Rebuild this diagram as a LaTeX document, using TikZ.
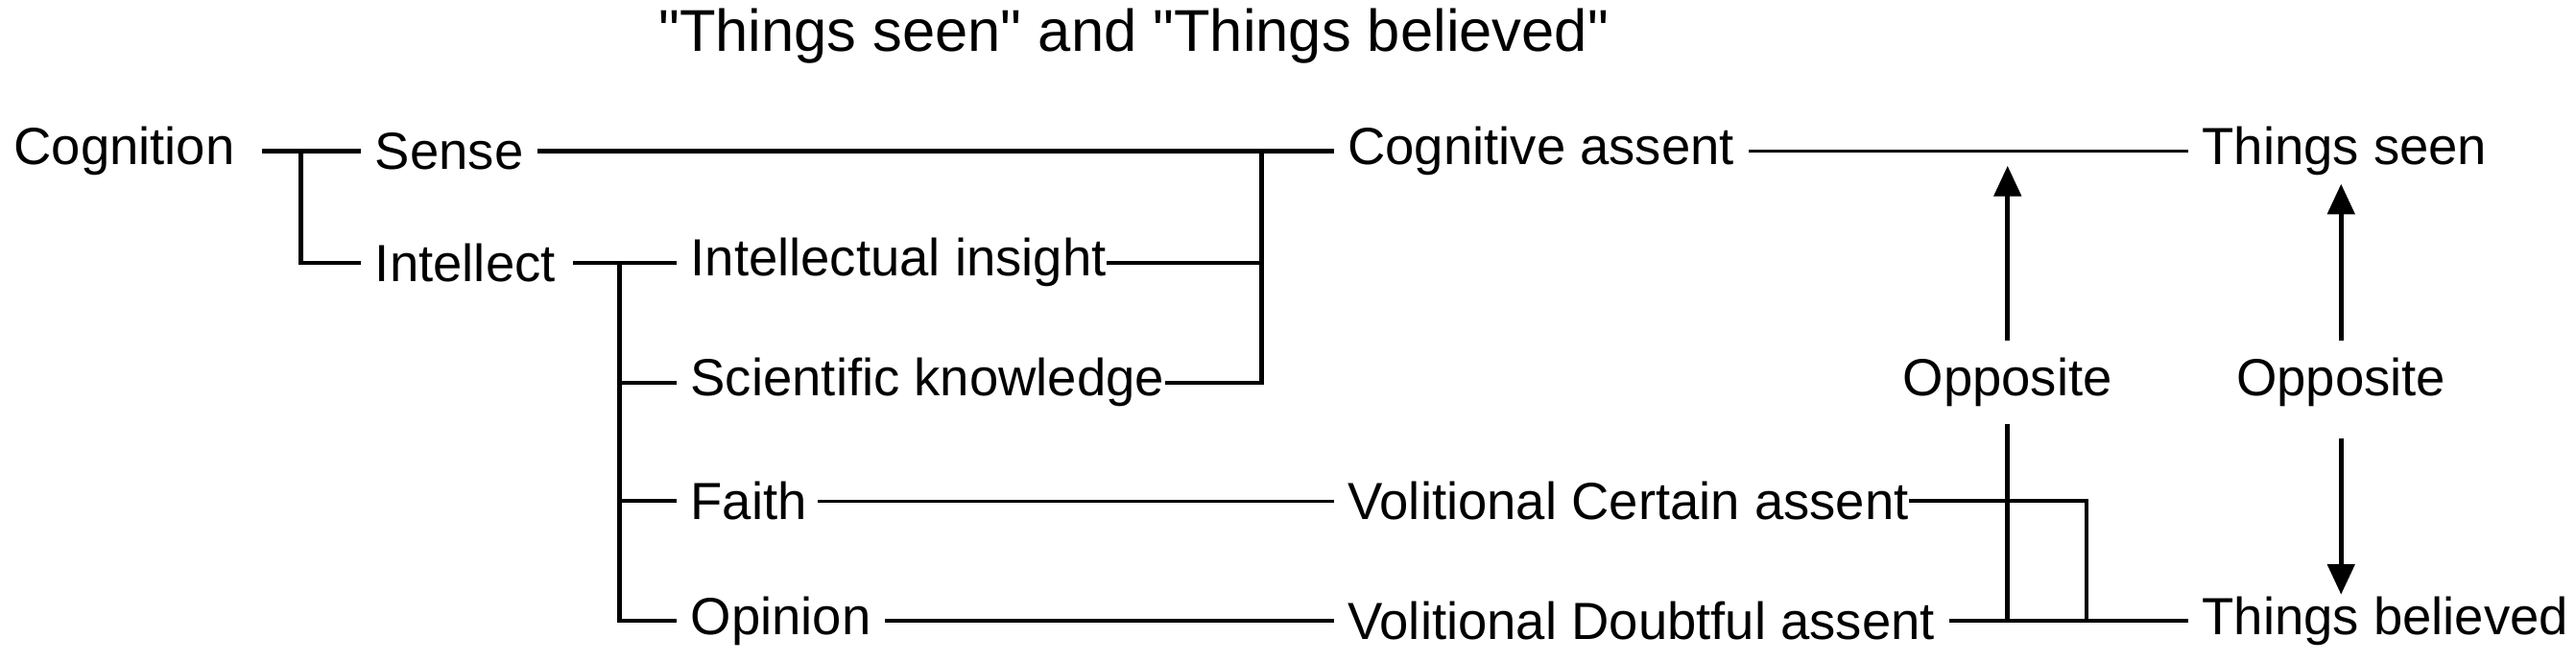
\documentclass[tikz,border=0pt]{standalone}
\usepackage{fontspec}
\setmainfont{Liberation Sans}
\newfontfamily\titlefont{Liberation Sans}
\usetikzlibrary{arrows.meta}
\begin{document}
\begin{tikzpicture}[x=0.01712cm,y=-0.01712cm,
  lbl/.style={anchor=west,inner sep=0pt,font=\fontsize{15.5}{18}\selectfont},
  thick line/.style={line width=1.3pt},
  thin line/.style={line width=0.85pt},
  arr/.style={line width=1.3pt,-{Triangle[length=9pt,width=8pt]}}]
\useasboundingbox (0,0) rectangle (1568,403);
\node[anchor=center,inner sep=0pt,font=\titlefont\fontsize{17.5}{20}\selectfont] (title) at (690,22) {"Things seen" and "Things believed"};
\node[lbl] (cog) at (8,92) {Cognition};
\node[lbl] (sense) at (228,92) {Sense};
\node[lbl] (intel) at (228,160) {Intellect};
\node[lbl] (ins) at (420,160) {Intellectual insight};
\node[lbl] (sci) at (420,233) {Scientific knowledge};
\node[lbl] (faith) at (420,305) {Faith};
\node[lbl] (opin) at (420,378) {Opinion};
\node[lbl] (ca) at (820,92) {Cognitive assent};
\node[lbl] (vca) at (820,305) {Volitional Certain assent};
\node[lbl] (vda) at (820,378) {Volitional Doubtful assent};
\node[lbl] (seen) at (1340,92) {Things seen};
\node[lbl] (bel) at (1340,378) {Things believed};
\node[anchor=center,inner sep=0pt,font=\fontsize{15.5}{18}\selectfont] (op1) at (1222,233) {Opposite};
\node[anchor=center,inner sep=0pt,font=\fontsize{15.5}{18}\selectfont] (op2) at (1425,233) {Opposite};
\coordinate (j1) at (183,92);
\coordinate (j2) at (377,160);
\coordinate (j3) at (768,92);
\coordinate (j4) at (1270,305);
\coordinate (j5) at (1222,378);
% left tree
\draw[thick line] ([xshift=8pt]cog.east) -- ([xshift=-4pt]sense.west);
\draw[thick line] (j1) -- (183,160) -- ([xshift=-4pt]intel.west);
\draw[thick line] ([xshift=5pt]intel.east) -- ([xshift=-4pt]ins.west);
\draw[thick line] (j2) -- (377,378) -- ([xshift=-4pt]opin.west);
\draw[thick line] (377,233) -- ([xshift=-4pt]sci.west);
\draw[thick line] (377,305) -- ([xshift=-4pt]faith.west);
% to cognitive assent
\draw[thick line] ([xshift=4pt]sense.east) -- ([xshift=-4pt]ca.west);
\draw[thick line] (ins.east) -- (768,160);
\draw[thick line] (sci.east) -- (768,233) -- (j3);
\draw[thin line] ([xshift=4pt]ca.east) -- ([xshift=-4pt]seen.west);
\draw[thin line] ([xshift=3pt]faith.east) -- ([xshift=-4pt]vca.west);
\draw[thick line] ([xshift=4pt]opin.east) -- ([xshift=-4pt]vda.west);
% right connections
\draw[thick line] (vca.east) -- (j4) -- (1270,378);
\draw[thick line] ([xshift=4pt]vda.east) -- ([xshift=-4pt]bel.west);
\draw[thick line] (j5) -- ([yshift=-5pt]op1.south);
\draw[arr] ([yshift=5pt]op1.north) -- (1222,101);
\draw[arr] ([yshift=5pt]op2.north) -- (1425,112);
\draw[arr] ([yshift=-9pt]op2.south) -- (1425,362);
\end{tikzpicture}
\end{document}
